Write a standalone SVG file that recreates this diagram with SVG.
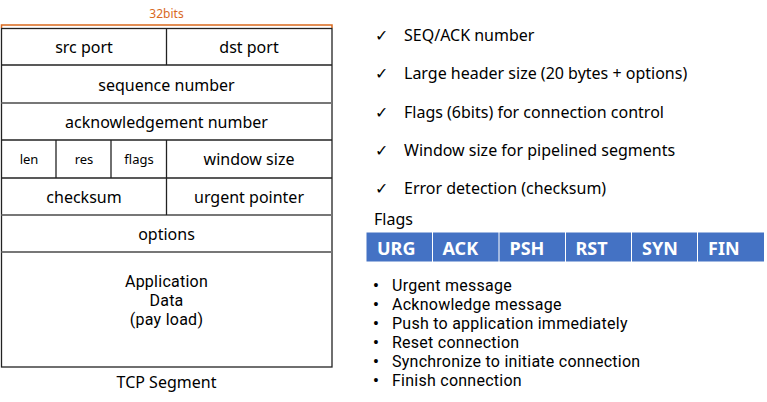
<svg xmlns="http://www.w3.org/2000/svg" width="767" height="402" viewBox="0 0 767 402">
<style>
text{font-family:"Noto Sans","Open Sans","Liberation Sans",sans-serif;fill:#000;}
.c{text-anchor:middle;font-size:16px;}
.s{text-anchor:middle;font-size:13px;}
.r{font-size:16px;}
.t{font-family:Roboto,"Noto Sans",sans-serif;font-size:16px;letter-spacing:0.25px;}
.d{font-weight:bold;}
.f{font-size:18px;font-weight:bold;fill:#fff;}
.ln{stroke:#222;stroke-width:1.3;fill:none;}
.lg{stroke:#777;stroke-width:2;fill:none;}
.cell{fill:#4472C4;}
</style>
<rect x="0" y="0" width="767" height="402" fill="#fff"/>
<g id="bits">
<path d="M1.5,28 V25 H332 V28" fill="none" stroke="#D9691E" stroke-width="1.5"/>
<text x="166.5" y="18" style="font-size:12px;fill:#D9691E;text-anchor:middle">32bits</text>
</g>
<g id="segment">
<rect x="1.5" y="28.5" width="330.5" height="338.5" class="ln"/>
<line x1="1.5" y1="65" x2="332" y2="65" class="ln"/>
<line x1="1.5" y1="103" x2="332" y2="103" class="lg"/>
<line x1="1.5" y1="140" x2="332" y2="140" class="ln"/>
<line x1="1.5" y1="178" x2="332" y2="178" class="ln"/>
<line x1="1.5" y1="215" x2="332" y2="215" class="lg"/>
<line x1="1.5" y1="252" x2="332" y2="252" class="lg"/>
<line x1="166.5" y1="28" x2="166.5" y2="65" class="ln"/>
<line x1="166.5" y1="140" x2="166.5" y2="215" class="ln"/>
<line x1="56" y1="140" x2="56" y2="178" class="ln"/>
<line x1="111" y1="140" x2="111" y2="178" class="ln"/>
</g>
<g id="fields">
<text x="84" y="53" class="c">src port</text>
<text x="249" y="53" class="c">dst port</text>
<text x="166.5" y="91" class="c">sequence number</text>
<text x="166.5" y="128" class="c">acknowledgement number</text>
<text x="29" y="164" class="s">len</text>
<text x="84" y="164" class="s">res</text>
<text x="139" y="164" class="s">flags</text>
<text x="249" y="164.5" class="c">window size</text>
<text x="84" y="203" class="c">checksum</text>
<text x="249" y="203" class="c">urgent pointer</text>
<text x="166.5" y="239.5" class="c">options</text>
<text class="t" text-anchor="middle"><tspan x="166.5" y="287">Application</tspan><tspan x="166.5" y="306">Data</tspan><tspan x="166.5" y="325">(pay load)</tspan></text>
<text x="166.5" y="388" class="c">TCP Segment</text>
</g>
<g id="features">
<text x="375" y="41" class="r">✓</text><text x="404" y="41" class="r">SEQ/ACK number</text>
<text x="375" y="79" class="r">✓</text><text x="404" y="79" class="r">Large header size (20 bytes + options)</text>
<text x="375" y="117.5" class="r">✓</text><text x="404" y="117.5" class="r">Flags (6bits) for connection control</text>
<text x="375" y="156" class="r">✓</text><text x="404" y="156" class="r">Window size for pipelined segments</text>
<text x="375" y="193.5" class="r">✓</text><text x="404" y="193.5" class="r">Error detection (checksum)</text>
</g>
<g id="flags">
<text x="374" y="225" class="r">Flags</text>
<rect class="cell" x="366.5" y="232.5" width="65.5" height="29"/>
<rect class="cell" x="433" y="232.5" width="65.5" height="29"/>
<rect class="cell" x="499.5" y="232.5" width="65.5" height="29"/>
<rect class="cell" x="566" y="232.5" width="65" height="29"/>
<rect class="cell" x="632" y="232.5" width="65" height="29"/>
<rect class="cell" x="698" y="232.5" width="66" height="29"/>
<text x="377" y="254.5" class="f">URG</text>
<text x="442.5" y="254.5" class="f">ACK</text>
<text x="509.5" y="254.5" class="f">PSH</text>
<text x="575.5" y="254.5" class="f">RST</text>
<text x="642" y="254.5" class="f">SYN</text>
<text x="708" y="254.5" class="f">FIN</text>
</g>
<g id="meanings">
<text class="t"><tspan class="d" x="373" y="291">•</tspan><tspan x="392" y="291">Urgent message</tspan><tspan class="d" x="373" y="310">•</tspan><tspan x="392" y="310">Acknowledge message</tspan><tspan class="d" x="373" y="329">•</tspan><tspan x="392" y="329">Push to application immediately</tspan><tspan class="d" x="373" y="348">•</tspan><tspan x="392" y="348">Reset connection</tspan><tspan class="d" x="373" y="367">•</tspan><tspan x="392" y="367">Synchronize to initiate connection</tspan><tspan class="d" x="373" y="386">•</tspan><tspan x="392" y="386">Finish connection</tspan></text>
</g>
</svg>
